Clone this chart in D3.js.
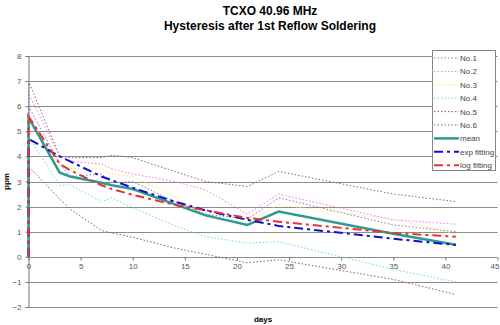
<!DOCTYPE html>
<html>
<head>
<meta charset="utf-8">
<script src="https://cdn.jsdelivr.net/npm/d3@7"></script>
<style>
  body { margin: 0; background: #fff; }
  text { font-family: "Liberation Sans", Arial, sans-serif; }
</style>
</head>
<body>
<svg id="chart" width="500" height="325"></svg>
<script>
// measurement days (first entry = before reflow)
const days = [0, 0, 3, 4, 7, 8, 10, 14, 17, 21, 24, 35, 41];

const no1 = [0, 6.0, 3.7, 3.2, 3.3, 2.95, 3.0, 2.2, 1.7, 1.5, 2.35, 1.27, 1.0];
const no2 = [0, 6.5, 4.0, 3.8, 3.7, 3.5, 3.3, 3.0, 2.67, 1.7, 2.5, 1.47, 1.3];
const no3 = [0, 5.5, 3.6, 3.5, 3.5, 3.3, 3.2, 2.4, 1.6, 1.41, 2.07, 1.5, 0.9];
const no4 = [0, 4.8, 2.83, 2.87, 2.2, 2.35, 1.95, 1.25, 0.8, 0.55, 0.6, -0.5, -1.0];
const no5 = [0, 3.6, 2.3, 1.9, 1.05, 0.95, 0.78, 0.35, 0.1, -0.24, -0.12, -0.9, -1.5];
const no6 = [0, 7.0, 4.0, 3.95, 3.95, 4.05, 3.95, 3.4, 3.0, 2.8, 3.4, 2.5, 2.2];
const mean = [0, 5.55, 3.35, 3.2, 2.95, 2.85, 2.7, 2.1, 1.65, 1.27, 1.8, 0.92, 0.48];
const expFit = [0, 4.7, 4.0, 3.8, 3.2, 3.05, 2.75, 2.2, 1.85, 1.47, 1.23, 0.72, 0.47];
const logFit = [0, 5.6, 3.7, 3.45, 2.85, 2.7, 2.47, 2.07, 1.85, 1.55, 1.4, 0.95, 0.8];

const xTicks = [0, 5, 10, 15, 20, 25, 30, 35, 40, 45];
const yTicks = [-2, -1, 0, 1, 2, 3, 4, 5, 6, 7, 8];

const series = [
  { name: "No.1", values: no1, color: "#8878b0", width: 1, dash: "1.5,2" },
  { name: "No.2", values: no2, color: "#ee77ee", width: 1, dash: "1.5,2" },
  { name: "No.3", values: no3, color: "#eeee55", width: 1, dash: "1.5,2" },
  { name: "No.4", values: no4, color: "#66dddd", width: 1, dash: "1.5,2" },
  { name: "No.5", values: no5, color: "#7a5a8a", width: 1, dash: "1.5,2" },
  { name: "No.6", values: no6, color: "#8a6478", width: 1, dash: "1.5,2" },
  { name: "mean", values: mean, color: "#2e9a94", width: 2.5, dash: null },
  { name: "exp fitting", values: expFit, color: "#1010cc", width: 2, dash: "9,4,3,4" },
  { name: "log fitting", values: logFit, color: "#ee3030", width: 2, dash: "9,4,3,4" },
];

const svg = d3.select("#chart");

const x = d3.scaleLinear().domain([0, 45]).range([28.5, 497.5]);
const y = d3.scaleLinear().domain([-2, 8]).range([307, 56]);

// title
svg.append("text")
  .attr("x", 270).attr("y", 15)
  .attr("text-anchor", "middle")
  .attr("font-size", "12px").attr("font-weight", "bold")
  .text("TCXO 40.96 MHz");
svg.append("text")
  .attr("x", 270).attr("y", 30)
  .attr("text-anchor", "middle")
  .attr("font-size", "12px").attr("font-weight", "bold")
  .text("Hysteresis after 1st Reflow Soldering");

// gridlines
svg.append("g")
  .selectAll("line")
  .data(yTicks)
  .enter()
  .append("line")
  .attr("x1", x(0)).attr("x2", x(45))
  .attr("y1", (d) => Math.round(y(d)) + 0.5)
  .attr("y2", (d) => Math.round(y(d)) + 0.5)
  .attr("stroke", "#8c8c8c")
  .attr("stroke-width", 1);

// y axis
const yAxis = svg.append("g")
  .attr("transform", `translate(${x(0)},0)`)
  .call(d3.axisLeft(y).tickValues(yTicks).tickSize(3).tickPadding(4).tickFormat(d3.format("d")));
yAxis.select(".domain").attr("stroke", "#777");
yAxis.selectAll(".tick line").attr("stroke", "#777");
yAxis.selectAll("text").attr("fill", "#555").attr("font-size", "8px");

// x axis at zero
const xAxis = svg.append("g")
  .attr("transform", `translate(0,${Math.round(y(0)) + 0.5})`)
  .call(d3.axisBottom(x).tickValues(xTicks).tickSize(3).tickPadding(3).tickFormat(d3.format("d")));
xAxis.select(".domain").remove();
xAxis.selectAll(".tick line").attr("stroke", "#777");
xAxis.selectAll("text").attr("fill", "#555").attr("font-size", "8px")
  .filter((d) => d === 45).attr("text-anchor", "end").attr("dx", "1.5");

// axis titles
svg.append("text")
  .attr("transform", `translate(9,${y(3)}) rotate(-90)`)
  .attr("text-anchor", "middle")
  .attr("font-size", "8px").attr("font-weight", "bold")
  .text("ppm");
svg.append("text")
  .attr("x", 263).attr("y", 322)
  .attr("text-anchor", "middle")
  .attr("font-size", "8px").attr("font-weight", "bold")
  .text("days");

// lines
const line = d3.line()
  .x((d, i) => x(days[i]))
  .y((d) => y(d));

svg.append("g")
  .selectAll("path")
  .data(series)
  .enter()
  .append("path")
  .attr("d", (s) => line(s.values))
  .attr("fill", "none")
  .attr("stroke", (s) => s.color)
  .attr("stroke-width", (s) => s.width)
  .attr("stroke-dasharray", (s) => s.dash);

// legend
const lg = svg.append("g").attr("transform", "translate(432,50)");
lg.append("rect")
  .attr("x", 0.5).attr("y", 0.5)
  .attr("width", 63).attr("height", 120)
  .attr("fill", "#fff")
  .attr("stroke", "#888");

const item = lg.selectAll(".item")
  .data(series)
  .enter()
  .append("g")
  .attr("transform", (d, i) => `translate(0,${8 + i * 13.4})`);

item.append("line")
  .attr("x1", 2).attr("x2", 27)
  .attr("stroke", (s) => s.color)
  .attr("stroke-width", (s) => s.width)
  .attr("stroke-dasharray", (s) => s.dash);

item.append("text")
  .attr("x", 28).attr("y", 3)
  .attr("font-size", "8px")
  .attr("fill", "#444")
  .text((s) => s.name);
</script>
</body>
</html>
